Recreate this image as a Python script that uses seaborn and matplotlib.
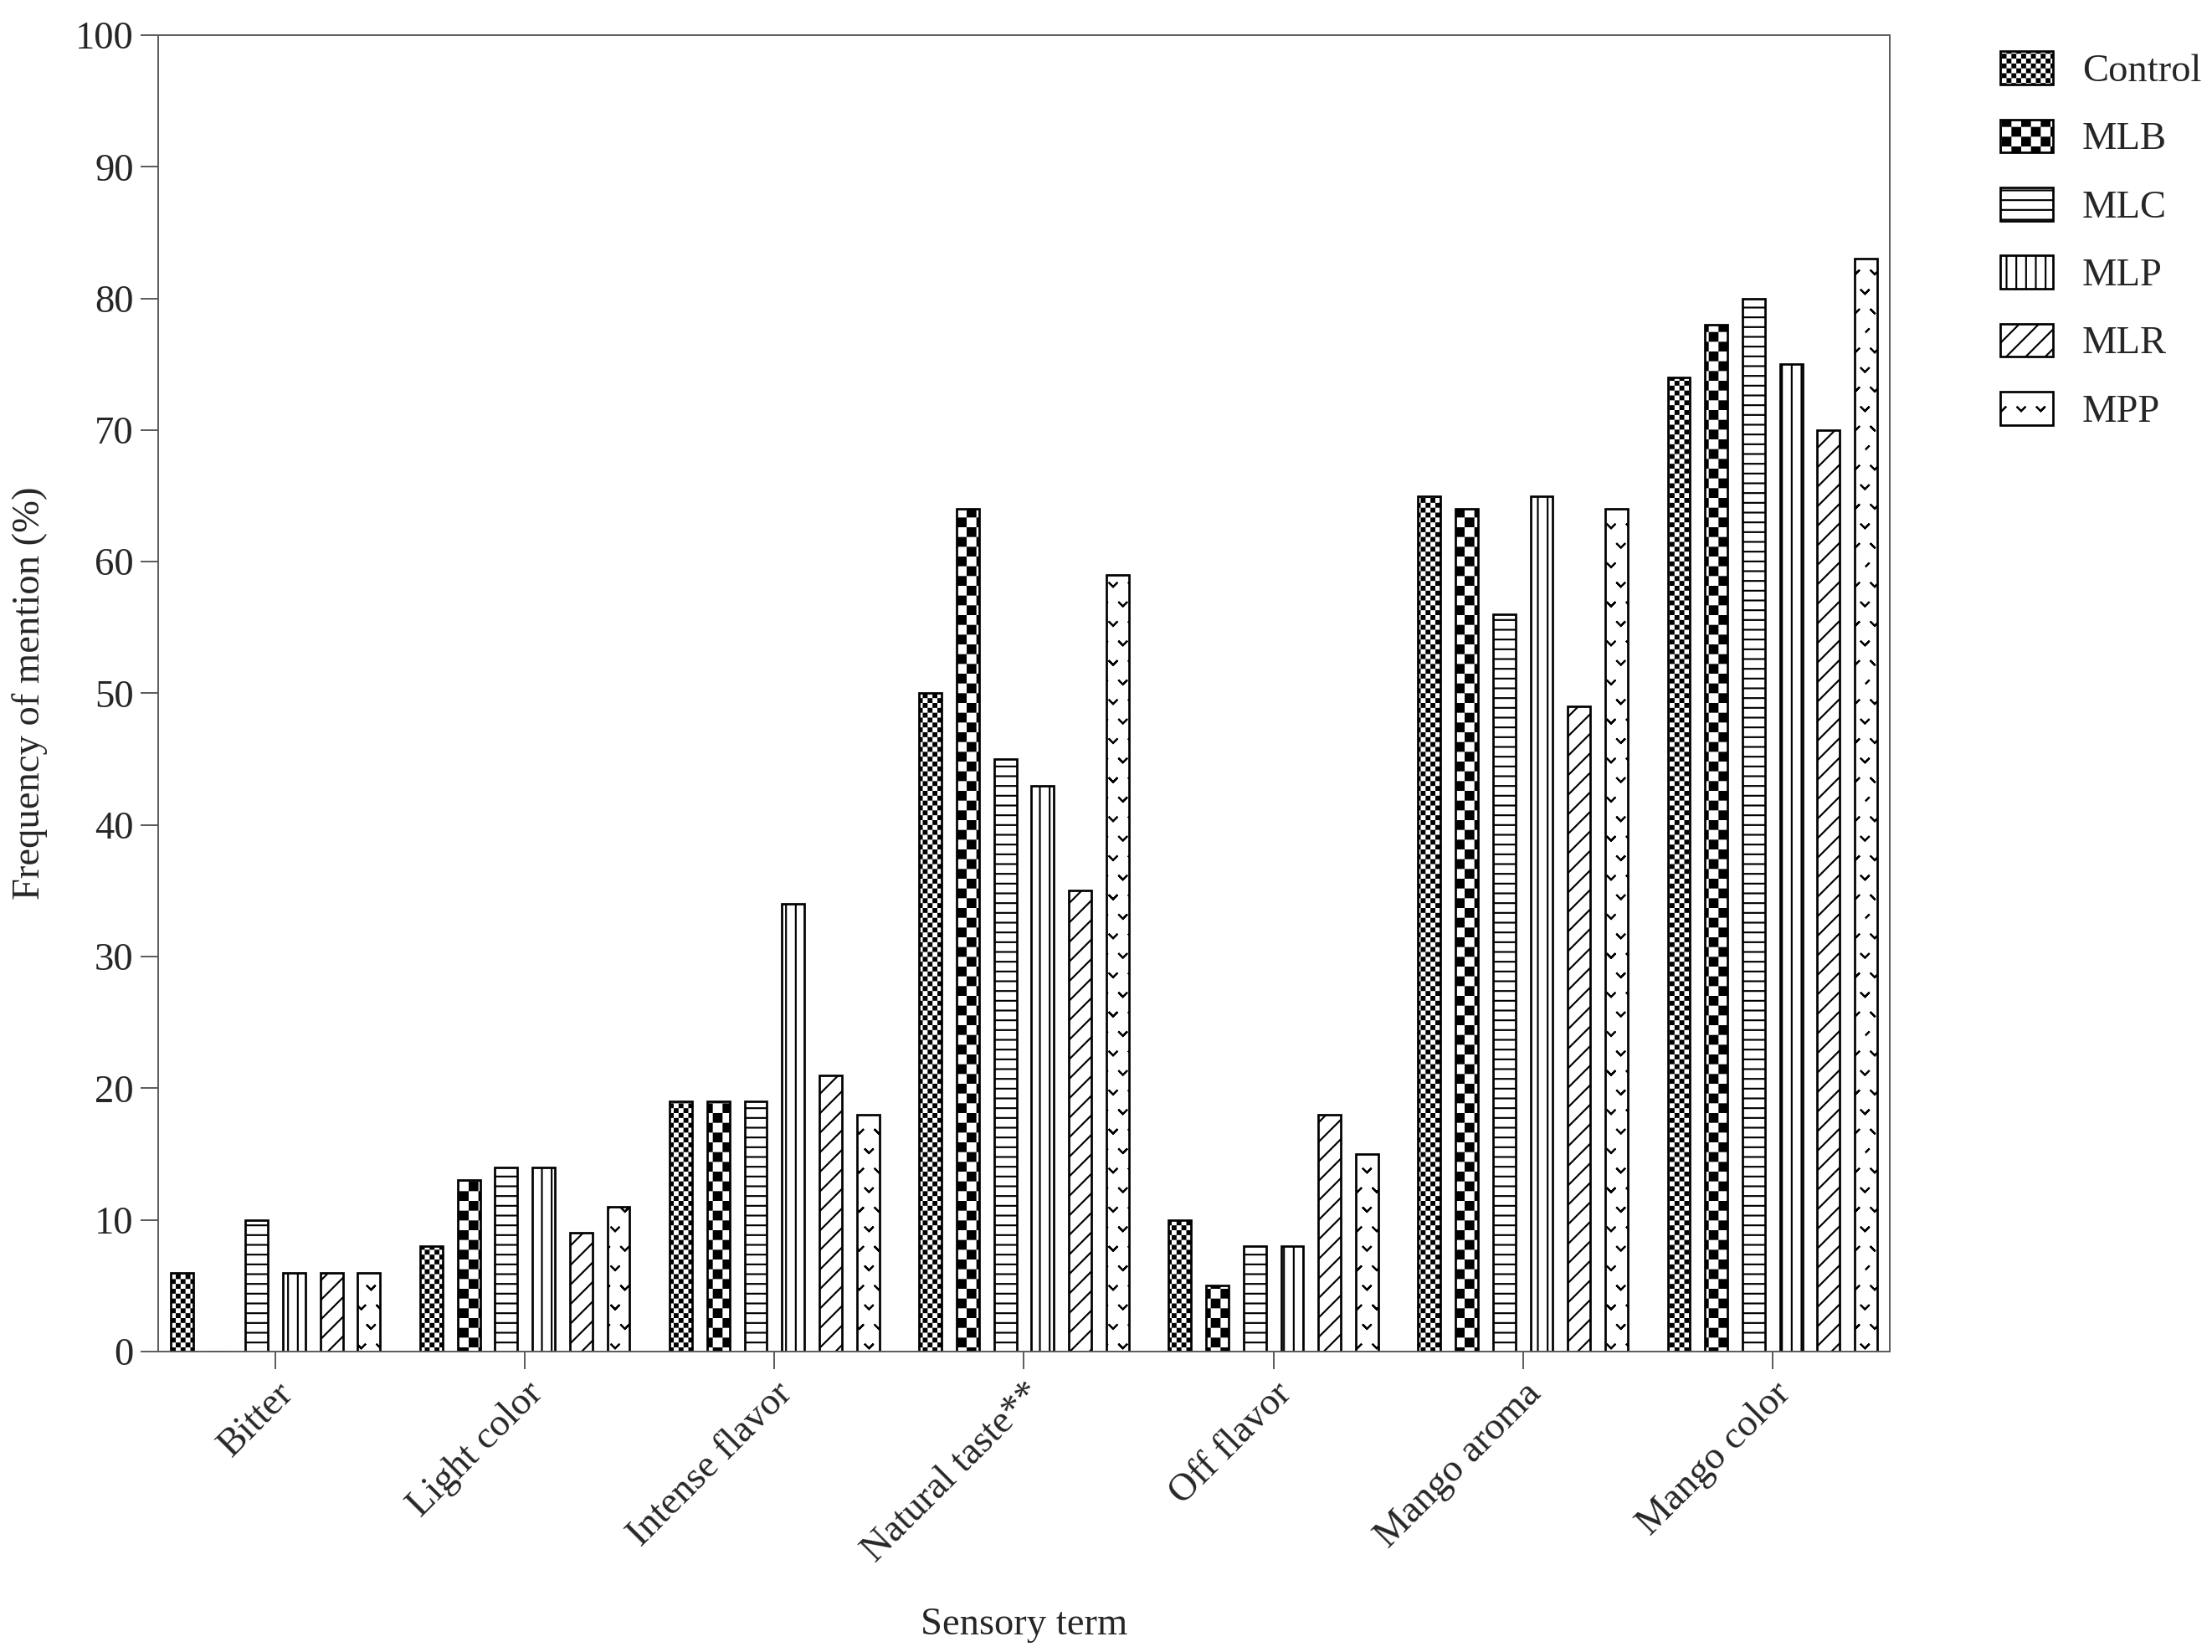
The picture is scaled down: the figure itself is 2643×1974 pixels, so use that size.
import numpy as np
import pandas as pd
import matplotlib
matplotlib.use("Agg")
import matplotlib.pyplot as plt
import matplotlib.hatch as mhatch
from matplotlib.path import Path
import seaborn as sns

terms = ["Bitter", "Light color", "Intense flavor", "Natural taste**",
         "Off flavor", "Mango aroma", "Mango color"]
groups = ["Control", "MLB", "MLC", "MLP", "MLR", "MPP"]
control = [6, 8, 19, 50, 10, 65, 74]
mlb = [0, 13, 19, 64, 5, 64, 78]
mlc = [10, 14, 19, 45, 8, 56, 80]
mlp = [6, 14, 34, 43, 8, 65, 75]
mlr = [6, 9, 21, 35, 18, 49, 70]
mpp = [6, 11, 18, 59, 15, 64, 83]

# one hatch per group: fine checker, big checker, horizontal, vertical, diagonal, v-marks
hatches = ["oooo", "OO", "--", "||", "//", "*"]

DPI = 140
HATCH_LW = 1.1


# checkerboard hatches ('o' small, 'O' big) and v marks ('*')
class SmallChecker(mhatch.HatchPatternBase):
    char = "o"

    def __init__(self, hatch, density):
        self.n = 2 * ((hatch.count(self.char) * density) // 2)
        self.num_vertices = (self.n * self.n // 2) * 5

    def set_vertices_and_codes(self, vertices, codes):
        s = 1.0 / self.n
        pad = HATCH_LW / 144
        sq = np.array([[0, 0], [1, 0], [1, 1], [0, 1], [0, 0]]) * (s - 2 * pad) + pad
        cells = [(i, j) for i in range(self.n) for j in range(self.n) if (i + j) % 2 == 0]
        vertices[:] = np.concatenate([sq + [i * s, j * s] for i, j in cells])
        code = [Path.MOVETO] + [Path.LINETO] * 3 + [Path.CLOSEPOLY]
        codes[:] = np.tile(code, len(cells))


class BigChecker(SmallChecker):
    char = "O"


class VMarks(mhatch.Shapes):
    filled = True
    size = 1.0
    shape_vertices = np.array([[-0.1, 0.05], [0, -0.05], [0.1, 0.05], [0, -0.05], [-0.1, 0.05]])
    shape_codes = np.array([Path.MOVETO, Path.LINETO, Path.LINETO, Path.LINETO, Path.CLOSEPOLY],
                           dtype=Path.code_type)

    def __init__(self, hatch, density):
        self.num_rows = hatch.count("*") * density
        super().__init__(hatch, density)


mhatch._hatch_types = [t for t in mhatch._hatch_types
                       if t not in (mhatch.SmallCircles, mhatch.LargeCircles, mhatch.Stars)]
mhatch._hatch_types += [SmallChecker, BigChecker, VMarks]

sns.set_theme(style="ticks")
plt.rcParams["font.family"] = ["Liberation Serif", "DejaVu Serif"]
plt.rcParams["hatch.linewidth"] = HATCH_LW

df = pd.DataFrame({"term": terms, "Control": control, "MLB": mlb, "MLC": mlc,
                   "MLP": mlp, "MLR": mlr, "MPP": mpp})
df = df.melt(id_vars="term", var_name="group", value_name="freq")

fig = plt.figure(figsize=(2643 / DPI, 1974 / DPI), dpi=DPI)
ax = fig.add_axes([0.0715, 0.1819, 0.7828, 0.7968])

sns.barplot(data=df, x="term", y="freq", hue="group", order=terms, hue_order=groups,
            palette=["white"] * len(groups), saturation=1, width=0.9, gap=0.4,
            errorbar=None, edgecolor="black", linewidth=1.4, legend=False, ax=ax)

for cont, h in zip(ax.containers, hatches):
    for bar in cont:
        bar.set_hatch(h)

ax.set_xlim(-0.47, 6.47)
ax.set_ylim(0, 100)
ax.set_yticks(range(0, 101, 10))
for sp in ax.spines.values():
    sp.set_visible(True)
    sp.set_color("#5a5a5a")
    sp.set_linewidth(1.0)
ax.tick_params(length=11, width=1.0, color="#5a5a5a", labelsize=24, pad=4)
plt.setp(ax.get_xticklabels(), rotation=45, ha="right", rotation_mode="anchor")

ax.set_xlabel("Sensory term", fontsize=24)
ax.set_ylabel("Frequency of mention (%)", fontsize=24)
ax.xaxis.set_label_coords(0.5, -0.194)
ax.yaxis.set_label_coords(-0.064, 0.5)

ax.legend(handles=[c.patches[0] for c in ax.containers], labels=groups,
          loc="upper left", bbox_to_anchor=(0.9043, 0.969), bbox_transform=fig.transFigure,
          frameon=False, fontsize=24, handlelength=1.35, handleheight=0.93,
          handletextpad=0.75, labelspacing=0.76, borderpad=0, borderaxespad=0)

fig.savefig("out.png", dpi=DPI)
